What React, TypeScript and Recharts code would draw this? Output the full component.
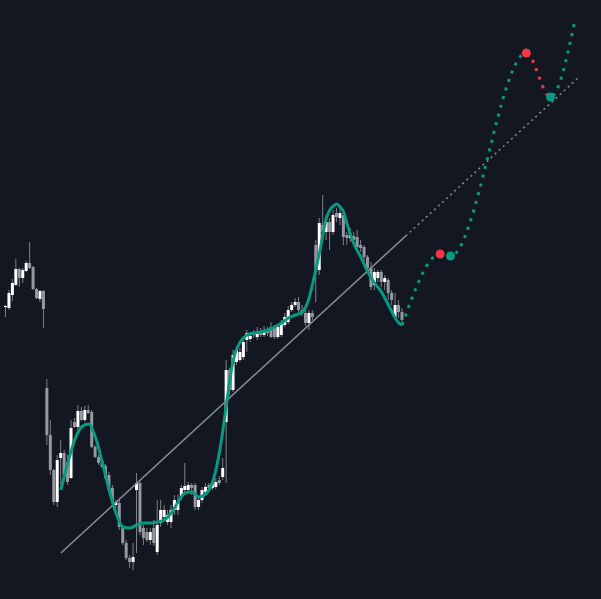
import React from 'react';
import { ComposedChart, Bar, Line, XAxis, YAxis } from 'recharts';

// candles, one per bar index
const candleOpen = [
  293, 292, 305, 315, 331, 322, 329, 337, 333, 311, 301, 309,
  212, 165, 130, 98, 142, 147, 138, 122, 178, 173, 189, 180, 190, 188, 153, 143, 137, 134,
  125, 112, 95, 97, 73, 57, 42, 38, 110, 117, 72, 68, 60, 72, 48, 77, 83, 78, 78, 90,
  90, 103, 110, 110, 115, 115, 93, 100, 108, 115, 112, 113, 120, 123, 178, 230, 210, 238, 240, 243,
  260, 261, 268, 263, 268, 265, 270, 273, 273, 263, 265, 275, 278, 290, 295, 298, 290, 287, 277, 287,
  355, 330, 375, 368, 378, 368, 387, 382, 385, 365, 362, 364, 363, 355, 353, 343, 332, 315, 322, 328,
  318, 320, 307, 283, 295, 288,
];
const candleClose = [
  294, 307, 317, 331, 322, 330, 337, 332, 311, 302, 309, 291,
  165, 130, 98, 140, 147, 125, 118, 172, 173, 189, 180, 190, 187, 153, 143, 137, 133, 122,
  110, 97, 98, 73, 57, 42, 38, 43, 117, 68, 62, 60, 68, 57, 75, 90, 90, 85, 90, 100,
  98, 112, 114, 115, 112, 93, 100, 110, 113, 112, 116, 118, 117, 132, 230, 210, 245, 250, 248, 258,
  267, 264, 265, 267, 265, 270, 267, 263, 263, 273, 278, 283, 290, 295, 298, 290, 287, 277, 287, 283,
  328, 377, 368, 378, 368, 385, 383, 387, 363, 362, 365, 360, 353, 352, 343, 332, 313, 328, 328, 318,
  322, 307, 300, 295, 288, 280,
];
const candleHigh = [
  295, 310, 321, 341, 332, 332, 339, 358, 334, 312, 310, 310,
  221, 180, 131, 145, 160, 150, 145, 180, 182, 195, 193, 194, 195, 190, 155, 145, 140, 136,
  128, 115, 100, 100, 75, 60, 45, 57, 127, 120, 75, 72, 72, 80, 100, 100, 95, 90, 95, 105,
  105, 115, 137, 118, 117, 117, 102, 113, 117, 117, 120, 122, 124, 142, 240, 232, 250, 254, 252, 262,
  270, 268, 270, 273, 272, 274, 273, 278, 275, 275, 280, 287, 294, 298, 302, 303, 295, 290, 290, 290,
  360, 382, 405, 385, 382, 390, 392, 392, 387, 368, 372, 368, 370, 360, 355, 345, 338, 332, 330, 330,
  325, 322, 310, 307, 300, 292,
];
const candleLow = [
  283, 290, 299, 314, 313, 317, 328, 331, 310, 301, 298, 272,
  155, 125, 95, 93, 115, 120, 115, 121, 172, 170, 179, 178, 186, 152, 142, 135, 132, 120,
  108, 93, 92, 70, 55, 40, 32, 30, 47, 65, 55, 58, 55, 54, 45, 73, 80, 75, 72, 85,
  85, 100, 108, 108, 105, 90, 90, 97, 106, 110, 110, 111, 115, 120, 117, 205, 208, 235, 238, 240,
  248, 258, 262, 260, 263, 263, 264, 262, 261, 261, 263, 273, 276, 288, 293, 288, 284, 274, 270, 280,
  298, 325, 360, 360, 350, 365, 378, 375, 355, 355, 358, 355, 348, 348, 338, 328, 310, 310, 318, 313,
  310, 300, 295, 282, 282, 278,
];

// smoothed line
const maIndex = [
  16, 18, 20, 22, 24, 26, 28, 30, 32, 34, 36, 38, 40, 42, 44, 46, 48, 50, 52, 54,
  56, 58, 60, 62, 63, 64, 65, 66, 68, 70, 72, 74, 76, 78, 80, 82, 84, 86, 88, 89,
  91, 93, 94, 95, 96, 97, 98, 99, 101, 103, 105, 107, 109, 111, 113, 114, 115,
];
const maValue = [
  110, 137, 160, 173, 176, 163, 138, 110, 87, 73, 72, 75, 77, 77, 78, 80, 87, 98, 107, 108,
  103, 106, 118, 148, 170, 195, 220, 240, 258, 265, 267, 268, 270, 273, 277, 282, 285, 288, 302, 316,
  347, 382, 390, 394, 396, 393, 388, 376, 356, 343, 328, 317, 308, 295, 282, 277, 275,
];

// trend line: solid over history, dotted extension
const trendIndex = [16, 116, 166];
const trendValue = [47, 364, 522];

// projected path and its turning points
const projIndex = [115, 126, 129, 151, 158, 165];
const projValue = [275, 346, 344, 547, 503, 578];
const projPivot = ['', 'high', 'low', 'high', 'low', ''];

const TOTAL_BARS = 172;

const BG = '#131722';
const UP = '#ffffff';
const DOWN = '#9598a1';
const WICK = '#7d8089';
const TEAL = '#089981';
const RED = '#f23645';
const TREND = '#8a8d96';

type Row = { [k: string]: any };

const rows: Row[] = Array.from({ length: TOTAL_BARS }, (_, i) => ({ i }));
candleOpen.forEach((o, i) => {
  rows[i].open = o;
  rows[i].close = candleClose[i];
  rows[i].high = candleHigh[i];
  rows[i].low = candleLow[i];
  rows[i].range = [candleLow[i], candleHigh[i]];
});
maIndex.forEach((idx, k) => {
  rows[idx].ma = maValue[k];
});
rows[trendIndex[0]].trend = trendValue[0];
rows[trendIndex[1]].trend = trendValue[1];
rows[trendIndex[1]].trendExt = trendValue[1];
rows[trendIndex[2]].trendExt = trendValue[2];
projIndex.forEach((idx, k) => {
  rows[idx].proj = projValue[k];
  if (projPivot[k] === 'high') rows[idx].pivotHigh = projValue[k];
  if (projPivot[k] === 'low') rows[idx].pivotLow = projValue[k];
});

// hard colour stops: rising legs teal, falling legs red
const projStops: { offset: number; color: string }[] = [];
const span = projIndex[projIndex.length - 1] - projIndex[0];
for (let k = 0; k < projIndex.length - 1; k++) {
  const color = projValue[k + 1] >= projValue[k] ? TEAL : RED;
  projStops.push({ offset: (projIndex[k] - projIndex[0]) / span, color });
  projStops.push({ offset: (projIndex[k + 1] - projIndex[0]) / span, color });
}

function Candle(props: any) {
  const { x, y, width, height, payload } = props;
  if (!payload || payload.open == null || y == null) return <g />;
  const { open, close, high, low } = payload;
  const h = Math.abs(height);
  const top = height >= 0 ? y : y + height;
  const ratio = h / Math.max(high - low, 1e-6);
  const bodyTop = top + (high - Math.max(open, close)) * ratio;
  const bodyH = Math.max(Math.abs(open - close) * ratio, 1);
  const cx = x + width / 2;
  return (
    <g>
      <line x1={cx} x2={cx} y1={top} y2={top + h} stroke={WICK} strokeWidth={1} />
      <rect x={x} y={bodyTop} width={width} height={bodyH} fill={close >= open ? UP : DOWN} />
    </g>
  );
}

export default function App() {
  return (
    <div style={{ position: 'fixed', left: 0, top: 0, width: 601, height: 599, background: BG }}>
      <ComposedChart width={601} height={599} data={rows} margin={{ top: 0, right: 0, bottom: 0, left: 0 }}>
        <defs>
          <linearGradient id="projStroke" x1="0" y1="0" x2="1" y2="0">
            {projStops.map((s, k) => (
              <stop key={k} offset={s.offset} stopColor={s.color} />
            ))}
          </linearGradient>
        </defs>
        <XAxis dataKey="i" type="category" hide padding={{ left: 4, right: 4 }} />
        <YAxis type="number" hide domain={[1, 600]} allowDataOverflow />
        <Bar dataKey="range" barSize={3} shape={<Candle />} isAnimationActive={false} />
        <Line
          dataKey="trend"
          type="linear"
          stroke={TREND}
          strokeWidth={1.5}
          dot={false}
          activeDot={false}
          connectNulls
          isAnimationActive={false}
        />
        <Line
          dataKey="trendExt"
          type="linear"
          stroke={TREND}
          strokeWidth={1.5}
          strokeDasharray="2 3.5"
          dot={false}
          activeDot={false}
          connectNulls
          isAnimationActive={false}
        />
        <Line
          dataKey="ma"
          type="monotone"
          stroke={TEAL}
          strokeWidth={3}
          dot={false}
          activeDot={false}
          connectNulls
          isAnimationActive={false}
        />
        <Line
          dataKey="proj"
          type="monotone"
          stroke="url(#projStroke)"
          strokeWidth={3}
          strokeDasharray="3 6"
          dot={false}
          activeDot={false}
          connectNulls
          isAnimationActive={false}
        />
        <Line
          dataKey="pivotHigh"
          stroke="none"
          dot={{ r: 4.5, fill: RED, stroke: 'none' }}
          activeDot={false}
          isAnimationActive={false}
        />
        <Line
          dataKey="pivotLow"
          stroke="none"
          dot={{ r: 4.5, fill: TEAL, stroke: 'none' }}
          activeDot={false}
          isAnimationActive={false}
        />
      </ComposedChart>
    </div>
  );
}
